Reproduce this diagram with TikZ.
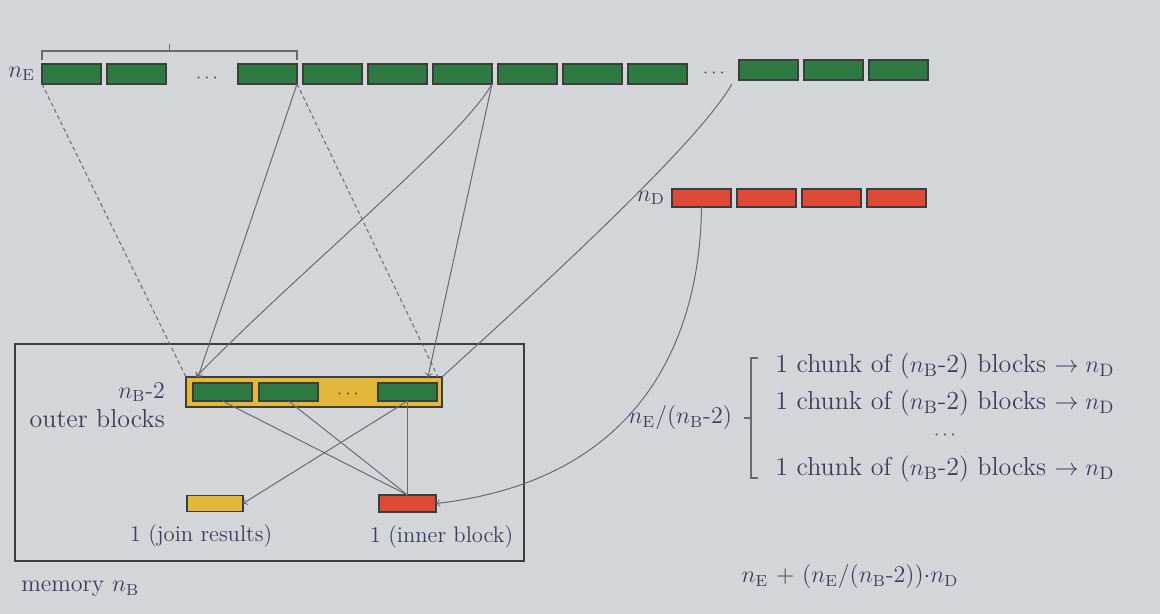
\documentclass[tikz,border=0pt]{standalone}
\usepackage{tikz}
\usetikzlibrary{positioning, calc}
\definecolor{slide}{RGB}{211,213,217}
\definecolor{egreen}{RGB}{46,122,66}
\definecolor{dred}{RGB}{222,74,53}
\definecolor{bufyellow}{RGB}{227,184,58}
\definecolor{rim}{RGB}{60,62,62}
\definecolor{ink}{RGB}{58,62,92}
\definecolor{wire}{RGB}{105,106,116}
\tikzset{
	every node/.append style={
		text=ink,
		font=\large,
	},
	block/.append style={
		draw=rim,
		line width=0.6pt,
		inner sep=0mm,
		outer sep=0mm,
		minimum width=29.5pt,
	},
	eblock/.append style={
		block,
		fill=egreen,
		minimum height=10pt,
	},
	dblock/.append style={
		block,
		fill=dred,
		minimum height=9pt,
	},
	buffer/.append style={
		block,
		fill=bufyellow,
		minimum width=128pt,
		minimum height=15pt,
	},
	wire/.append style={
		draw=wire,
		line width=0.5pt,
	},
	dashwire/.append style={
		wire,
		dash pattern=on 2pt off 1.5pt,
	},
	brk/.append style={
		draw=wire,
		line width=0.6pt,
	},
	chunk/.append style={
		inner sep=2pt,
		font={\fontsize{13}{15}\selectfont},
	},
	smalllbl/.append style={
		font={\fontsize{11.3}{13}\selectfont},
	}
}

\begin{document}
\begin{tikzpicture}[x=0.5pt, y=-0.5pt]
\fill[slide] (0,0) rectangle (1160,614);
\useasboundingbox (0,0) rectangle (1160,614);

% outer relation, n_E blocks
\node(E1)[eblock] at (71.5,74) {};
\node(E2)[eblock, right = 3pt of E1] {};
\node(Edots1) at (207,78) {\small$\cdots$};
\node(E3)[eblock] at (267.5,74) {};
\foreach \ii in {4,...,9} {
	\pgfmathtruncatemacro\jj{(\ii - 1)};
	\node(E\ii)[eblock, right = 3pt of E\jj] {};
};
\node(Edots2) at (714,73) {\small$\cdots$};
\node(E10)[eblock] at (768.5,70) {};
\node(E11)[eblock, right = 3pt of E10] {};
\node(E12)[eblock, right = 3pt of E11] {};
\node(nE)[left = 0pt of E1] {$n_\mathrm{E}$};

% bracket over the first n_B-2 blocks
\draw[brk] ([yshift=2pt]E1.north west) -- ++(0,4.5pt) -| ([yshift=2pt]E3.north east);
\draw[brk] ($([yshift=6.5pt]E1.north west)!0.5!([yshift=6.5pt]E3.north east)$) -- ++(0,3.5pt);

% inner relation, n_D blocks
\node(D1)[dblock] at (701.5,198) {};
\foreach \ii in {2,...,4} {
	\pgfmathtruncatemacro\jj{(\ii - 1)};
	\node(D\ii)[dblock, right = 3pt of D\jj] {};
};
\node(nD)[left = 0pt of D1] {$n_\mathrm{D}$};

% memory
\node(mem)[draw=rim, line width=0.8pt, minimum width=254.5pt, minimum height=108.5pt] at (269.5,452.5) {};
\node(memlbl)[below right = 6pt and 0pt of mem.south west] {memory $n_\mathrm{B}$};

\node(buf)[buffer] at (314,392) {};
\node(B1)[eblock, minimum height=9pt, right = 3.5pt of buf.west] {};
\node(B2)[eblock, minimum height=9pt, right = 3.5pt of B1] {};
\node(B3)[eblock, minimum height=9pt, left = 2.5pt of buf.east] {};
\node(Bdots) at (348,394) {\small$\cdots$};
\node(nBlbl)[left = 7pt of buf] {$n_\mathrm{B}$-2};
\node(outerlbl)[below = -3pt of nBlbl.south east, anchor=north east, font={\fontsize{13}{15}\selectfont}] {outer blocks};

\node(R)[dblock, minimum width=28.5pt, minimum height=8.5pt, below = 47pt of B3] {};
\node(J)[block, fill=bufyellow, minimum width=28pt, minimum height=8pt, left = 68pt of R] {};
\node(Jlbl)[smalllbl, below = 3pt of J, xshift=-7pt] {1 (join results)};
\node(Rlbl)[smalllbl, below = 3pt of R, xshift=17pt] {1 (inner block)};

% reading outer blocks
\draw[dashwire] (E1.south west) -- (buf.north west);
\draw[dashwire] (E3.south east) -- ([xshift=-2pt]buf.north east);
\draw[wire, ->] (E3.south east) -- ([xshift=6pt]buf.north west);
\draw[wire, ->] (E6.south east) .. controls (460,140) and (300,270) .. ([xshift=5pt]buf.north west);
\draw[wire, ->] (E6.south east) -- ([xshift=-7pt]buf.north east);
\draw[wire] (Edots2.south east) .. controls (700,140) and (560,270) .. (buf.north east);

% reading inner block
\draw[wire, ->] (D1.south) .. controls (700,340) and (640,480) .. (R.east);

% joining
\draw[wire] (B1.south) -- (R.north);
\draw[wire] (B2.south) -- (R.north);
\draw[wire] (B3.south) -- (R.north);
\draw[wire, ->] (B3.south) -- (J.east);

% chunks
\node(C1)[chunk, anchor=west] at (771,366) {1 chunk of ($n_\mathrm{B}$-2) blocks $\rightarrow n_\mathrm{D}$};
\node(C2)[chunk, below = 1pt of C1.south west, anchor=north west] {1 chunk of ($n_\mathrm{B}$-2) blocks $\rightarrow n_\mathrm{D}$};
\node(C3)[chunk, anchor=west] at (771,469) {1 chunk of ($n_\mathrm{B}$-2) blocks $\rightarrow n_\mathrm{D}$};
\node(Cdots) at ($(C2)!0.5!(C3)$) {\small$\cdots$};

\coordinate(bt) at ([xshift=-10pt, yshift=4pt]C1.west);
\coordinate(bb) at ([xshift=-10pt, yshift=-4.5pt]C3.west);
\draw[brk] ([xshift=3.5pt]bt) -- (bt) -- (bb) -- ([xshift=3.5pt]bb);
\draw[brk] ($(bt)!0.5!(bb)$) -- ++(-3.5pt,0) coordinate(tick);
\node(nchunks)[left = 2.5pt of tick] {$n_\mathrm{E}$/($n_\mathrm{B}$-2)};

% cost
\node(cost) at (850,577) {$n_\mathrm{E}$ + ($n_\mathrm{E}$/($n_\mathrm{B}$-2))$\cdot n_\mathrm{D}$};
\end{tikzpicture}
\end{document}
